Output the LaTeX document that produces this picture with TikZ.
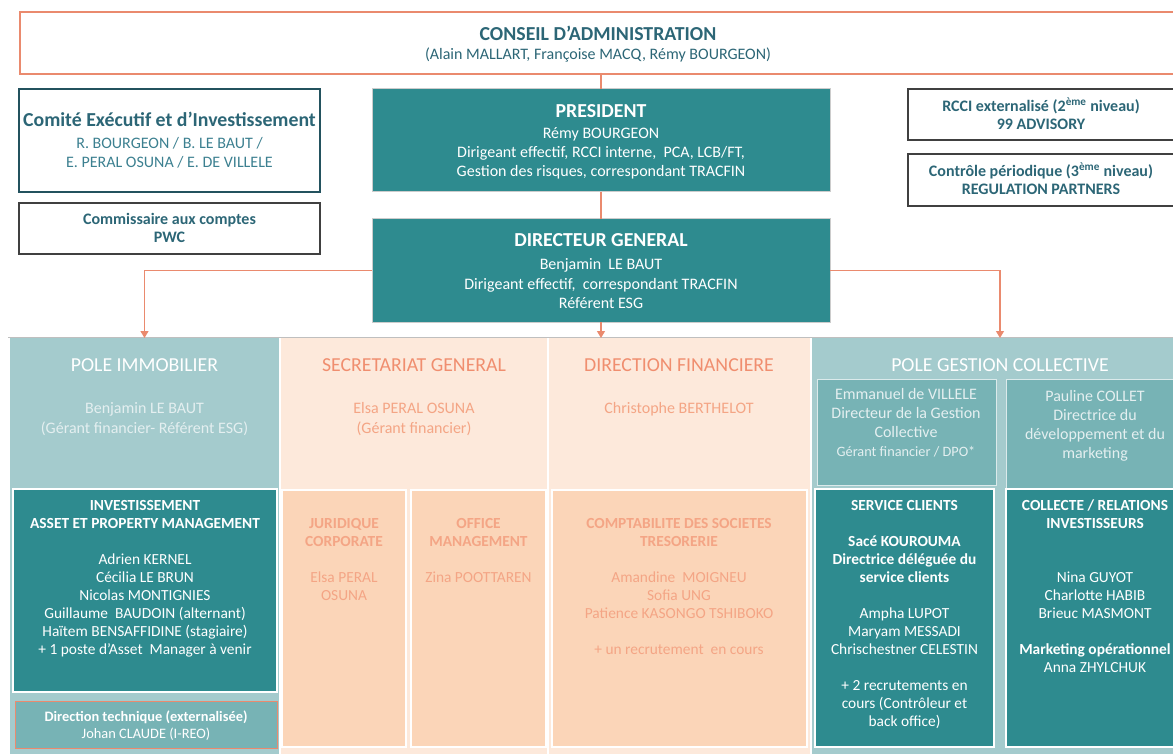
\documentclass[tikz,border=0pt]{standalone}
\usepackage{fontspec}
\setmainfont{Carlito}
\usepackage{tikz}
\usetikzlibrary{arrows.meta, positioning}
\definecolor{tealfonce}{HTML}{2E8B8F}
\definecolor{tealclair}{HTML}{A4CBCD}
\definecolor{tealmoyen}{HTML}{77B3B5}
\definecolor{pecheclair}{HTML}{FDE9DB}
\definecolor{peche}{HTML}{FBD5B8}
\definecolor{saumon}{HTML}{F08E6F}
\definecolor{saumonpale}{HTML}{F4A585}
\definecolor{bordsaumon}{HTML}{EA8A6E}
\definecolor{bleutitre}{HTML}{2C6676}
\definecolor{bleunoms}{HTML}{3C8090}
\definecolor{textpale}{HTML}{E4EFF0}
\newcommand{\ftitre}{\fontsize{19.8}{23}\selectfont}
\newcommand{\ftexte}{\fontsize{16}{18}\selectfont}
\newcommand{\fbloc}{\fontsize{15.4}{18}\selectfont}
\tikzstyle{boite} = [anchor=north west, inner sep=0pt, outer sep=0pt]
\tikzstyle{cadre} = [boite, draw=black!75, line width=1.2pt]
\tikzstyle{bloc} = [boite, fill=tealfonce, draw=black!20, line width=1pt]
\tikzstyle{colonne} = [boite, minimum height=416pt]
\tikzstyle{sousbloc} = [boite, draw=white, line width=1.2pt]
\tikzstyle{texte} = [anchor=base, align=center, inner sep=0pt, font=\ftexte]
\tikzstyle{textebloc} = [texte, font=\fbloc]
\tikzstyle{titre} = [anchor=base, inner sep=0pt, font=\ftitre]
\tikzstyle{lien} = [draw=bordsaumon, line width=1.3pt]
\tikzstyle{fleche} = [lien, -{Triangle[width=8pt,length=7pt]}]

\begin{document}
\begin{tikzpicture}[x=1pt,y=-1pt]
	\useasboundingbox (0,0) rectangle (1173,754);
	\clip (0,0) rectangle (1173,754);
	% haut de l'organigramme
	\node[boite, draw=bordsaumon, line width=2pt, minimum width=1160pt, minimum height=62pt] (conseil) at (20,12) {};
	\node[titre, font=\ftitre\bfseries, text=bleutitre] (conseiltitre) at (598,40.5) {CONSEIL D’ADMINISTRATION};
	\node[texte, text=bleutitre] (conseilnoms) at (598,60) {(Alain MALLART, Françoise MACQ, Rémy BOURGEON)};

	\node[boite, draw=bleutitre!80!black, line width=1.5pt, minimum width=301pt, minimum height=103pt] (comite) at (19,89) {};
	\node[titre, font=\ftitre\bfseries, text=bleutitre] (comitetitre) at (169.5,127) {Comité Exécutif et d’Investissement};
	\node[texte, text=bleunoms, font=\fontsize{16}{19}\selectfont] (comitenoms) at (169.5,167.5) {R. BOURGEON / B. LE BAUT /\\E. PERAL OSUNA / E. DE VILLELE};

	\node[cadre, minimum width=301pt, minimum height=51pt] (commissaire) at (19,203) {};
	\node[texte, font=\ftexte\bfseries, text=bleutitre] (commissairetexte) at (169.5,243) {Commissaire aux comptes\\PWC};

	\node[bloc, minimum width=458pt, minimum height=103pt] (president) at (372,89) {};
	\node[titre, font=\ftitre\bfseries, text=white] (presidenttitre) at (601,118) {PRESIDENT};
	\node[texte, text=white, font=\fontsize{16}{19.2}\selectfont] (presidenttexte) at (601,177) {Rémy BOURGEON\\Dirigeant effectif, RCCI interne,\ \ PCA, LCB/FT,\\Gestion des risques, correspondant TRACFIN};

	\node[bloc, minimum width=458pt, minimum height=103pt] (dg) at (372,219) {};
	\node[titre, font=\ftitre\bfseries, text=white] (dgtitre) at (601,246.5) {DIRECTEUR GENERAL};
	\node[texte, text=white, font=\fontsize{16}{19.5}\selectfont] (dgtexte) at (601,308.5) {Benjamin\ \ LE BAUT\\Dirigeant effectif,\ \ correspondant TRACFIN\\Référent ESG};

	\node[cadre, minimum width=270pt, minimum height=51pt] (rcci) at (908,89) {};
	\node[texte, font=\ftexte\bfseries, text=bleutitre] (rccitexte) at (1041,129.5) {RCCI externalisé (2\textsuperscript{ème} niveau)\\99 ADVISORY};
	\node[cadre, minimum width=270pt, minimum height=52pt] (controle) at (908,154) {};
	\node[texte, font=\ftexte\bfseries, text=bleutitre] (controletexte) at (1041,194.5) {Contrôle périodique (3\textsuperscript{ème} niveau)\\REGULATION PARTNERS};

	% colonnes
	\draw[black!25] (8,337) -- (1173,337);
	\node[colonne, fill=tealclair, minimum width=269pt] (immo) at (10,338) {};
	\node[colonne, fill=pecheclair, minimum width=266pt] (sg) at (281,338) {};
	\node[colonne, fill=pecheclair, minimum width=261pt] (df) at (549,338) {};
	\node[colonne, fill=tealclair, minimum width=376pt] (gc) at (812,338) {};

	\draw[lien] (president.north |- conseil.south) -- (president.north);
	\draw[lien] (president.south) -- (dg.north);
	\draw[fleche] (dg.west) -| (immo.north);
	\draw[fleche] (dg.south) -- (dg.south |- sg.north);
	\draw[fleche] (dg.east) -| (gc.north);

	\node[titre, text=white] (immotitre) at (144.5,371.5) {POLE IMMOBILIER};
	\node[titre, text=saumon] (sgtitre) at (414,371.5) {SECRETARIAT GENERAL};
	\node[titre, text=saumon] (dftitre) at (679,371.5) {DIRECTION FINANCIERE};
	\node[titre, text=white] (gctitre) at (1000,371.5) {POLE GESTION COLLECTIVE};

	% pole immobilier
	\node[texte, text=textpale, font=\fontsize{16}{20}\selectfont] (immotexte) at (144.5,433) {Benjamin LE BAUT\\(Gérant financier- Référent ESG)};
	\node[sousbloc, fill=tealfonce, minimum width=264pt, minimum height=203pt] (invest) at (13,489) {};
	\node[textebloc, text=white] (investtexte) at (145,654.5) {\textbf{INVESTISSEMENT}\\\textbf{ASSET ET PROPERTY MANAGEMENT}\\[18pt]Adrien KERNEL\\Cécilia LE BRUN\\Nicolas MONTIGNIES\\Guillaume\ \ BAUDOIN (alternant)\\Haïtem BENSAFFIDINE (stagiaire)\\+ 1 poste d’Asset\ \ Manager à venir};
	\node[boite, fill=tealmoyen, draw=bordsaumon, line width=1pt, minimum width=262pt, minimum height=47pt] (technique) at (15,701) {};
	\node[texte, text=white, font=\fontsize{14.4}{17}\selectfont] (techniquetexte) at (146,738.5) {\textbf{Direction technique (externalisée)}\\Johan CLAUDE (I-REO)};

	% secretariat general
	\node[texte, text=saumonpale, font=\fontsize{16}{20}\selectfont] (sgtexte) at (414,433) {Elsa PERAL OSUNA\\(Gérant financier)};
	\node[sousbloc, fill=peche, minimum width=124pt, minimum height=257pt] (juridique) at (282,490) {};
	\node[textebloc, text=saumonpale] (juridiquetexte) at (344,600) {\textbf{JURIDIQUE}\\\textbf{CORPORATE}\\[18pt]Elsa PERAL\\OSUNA};
	\node[sousbloc, fill=peche, minimum width=135pt, minimum height=257pt] (office) at (411,490) {};
	\node[textebloc, text=saumonpale] (officetexte) at (478.5,582.5) {\textbf{OFFICE}\\\textbf{MANAGEMENT}\\[18pt]Zina POOTTAREN};

	% direction financiere
	\node[texte, text=saumonpale] (dftexte) at (679,413) {Christophe BERTHELOT};
	\node[sousbloc, fill=peche, minimum width=255pt, minimum height=257pt] (compta) at (552,490) {};
	\node[textebloc, text=saumonpale] (comptatexte) at (679,654) {\textbf{COMPTABILITE DES SOCIETES}\\\textbf{TRESORERIE}\\[18pt]Amandine\ \ MOIGNEU\\Sofia UNG\\Patience KASONGO TSHIBOKO\\[18pt]+ un recrutement\ \ en cours};

	% pole gestion collective
	\node[boite, fill=tealmoyen, draw=white!60!tealclair, line width=1pt, minimum width=179pt, minimum height=106pt] (emmanuel) at (817,379) {};
	\node[texte, text=textpale, font=\fontsize{16}{19}\selectfont] (emmanueltexte) at (906,456) {Emmanuel de VILLELE\\Directeur de la Gestion\\Collective\\{\fontsize{14.3}{19}\selectfont Gérant financier / DPO*}};
	\node[boite, fill=tealmoyen, draw=white!60!tealclair, line width=1pt, minimum width=182pt, minimum height=109pt] (pauline) at (1006,379) {};
	\node[texte, text=textpale, font=\fontsize{16}{19}\selectfont] (paulinetexte) at (1095,458) {Pauline COLLET\\Directrice du\\développement et du\\marketing};
	\node[sousbloc, fill=tealfonce, minimum width=179pt, minimum height=258pt] (clients) at (815,489) {};
	\node[textebloc, text=white] (clientstexte) at (904.5,726) {\textbf{SERVICE CLIENTS}\\[18pt]\textbf{Sacé KOUROUMA}\\\textbf{Directrice déléguée du}\\\textbf{service clients}\\[18pt]Ampha LUPOT\\Maryam MESSADI\\Chrischestner CELESTIN\\[18pt]+ 2 recrutements en\\cours (Contrôleur et\\back office)};
	\node[sousbloc, fill=tealfonce, minimum width=182pt, minimum height=258pt] (collecte) at (1006,489) {};
	\node[textebloc, text=white] (collectetexte) at (1095,672) {\textbf{COLLECTE / RELATIONS}\\\textbf{INVESTISSEURS}\\[36pt]Nina GUYOT\\Charlotte HABIB\\Brieuc MASMONT\\[18pt]\textbf{Marketing opérationnel}\\Anna ZHYLCHUK};
\end{tikzpicture}
\end{document}
